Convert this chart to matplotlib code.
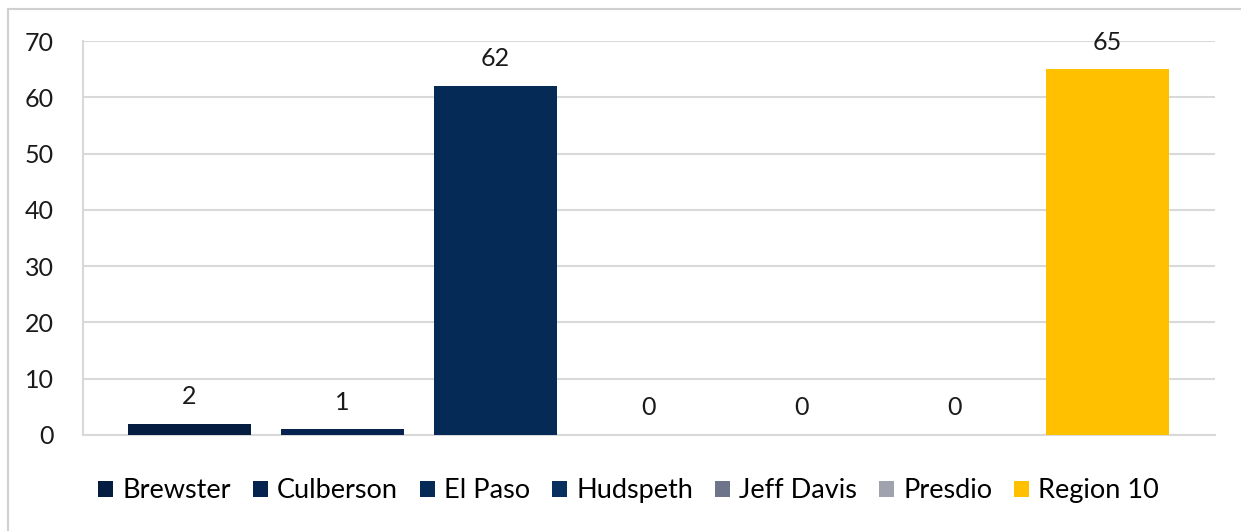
import matplotlib
matplotlib.use("Agg")
import matplotlib.pyplot as plt
from matplotlib.lines import Line2D

counties = ["Brewster", "Culberson", "El Paso", "Hudspeth", "Jeff Davis", "Presdio", "Region 10"]
counts = [2, 1, 62, 0, 0, 0, 65]
colors = ["#051D41", "#06234F", "#062A56", "#07305F", "#6E7489", "#A0A2AE", "#FFC000"]
yticks = [0, 10, 20, 30, 40, 50, 60, 70]

plt.rcParams["font.family"] = ["Lato", "DejaVu Sans"]

fig = plt.figure(figsize=(12.41, 5.31), dpi=100)
ax = fig.add_axes([83 / 1241, 96 / 531, 1132 / 1241, 394 / 531])

positions = list(range(len(counties)))
for pos, name, val, col in zip(positions, counties, counts, colors):
    ax.bar(pos, val, width=0.804, color=col, label=name, zorder=3)
    ax.annotate(str(val), xy=(pos, val), xytext=(0, 19.5), textcoords="offset points",
                ha="center", va="center", fontsize=18, color="#1a1a1a")

ax.set_xlim(-0.696, 6.703)
ax.set_ylim(0, 70)
ax.set_yticks(yticks)
ax.set_yticklabels([str(t) for t in yticks], fontsize=18, color="#1a1a1a")
ax.set_xticks([])
ax.tick_params(axis="y", length=0, pad=21)
ax.yaxis.grid(True, color="#D9D9D9", linewidth=1.5, zorder=0)
ax.set_axisbelow(True)

for side in ("top", "right"):
    ax.spines[side].set_visible(False)
for side in ("left", "bottom"):
    ax.spines[side].set_color("#D9D9D9")
    ax.spines[side].set_linewidth(1.5)

leg = ax.legend(loc="center", bbox_to_anchor=(0.482, -0.142), ncol=7, frameon=False,
                fontsize=19.5, handlelength=0.55, handleheight=0.55, handletextpad=0.35,
                columnspacing=0.8)

# Outer chart frame (top and left edges)
fig.add_artist(Line2D([8 / 1241, 1.0], [1 - 9 / 531, 1 - 9 / 531], transform=fig.transFigure,
                      color="#D0D0D0", linewidth=1.5))
fig.add_artist(Line2D([8 / 1241, 8 / 1241], [0.0, 1 - 9 / 531], transform=fig.transFigure,
                      color="#D0D0D0", linewidth=1.5))

fig.savefig("out.png", dpi=100)
